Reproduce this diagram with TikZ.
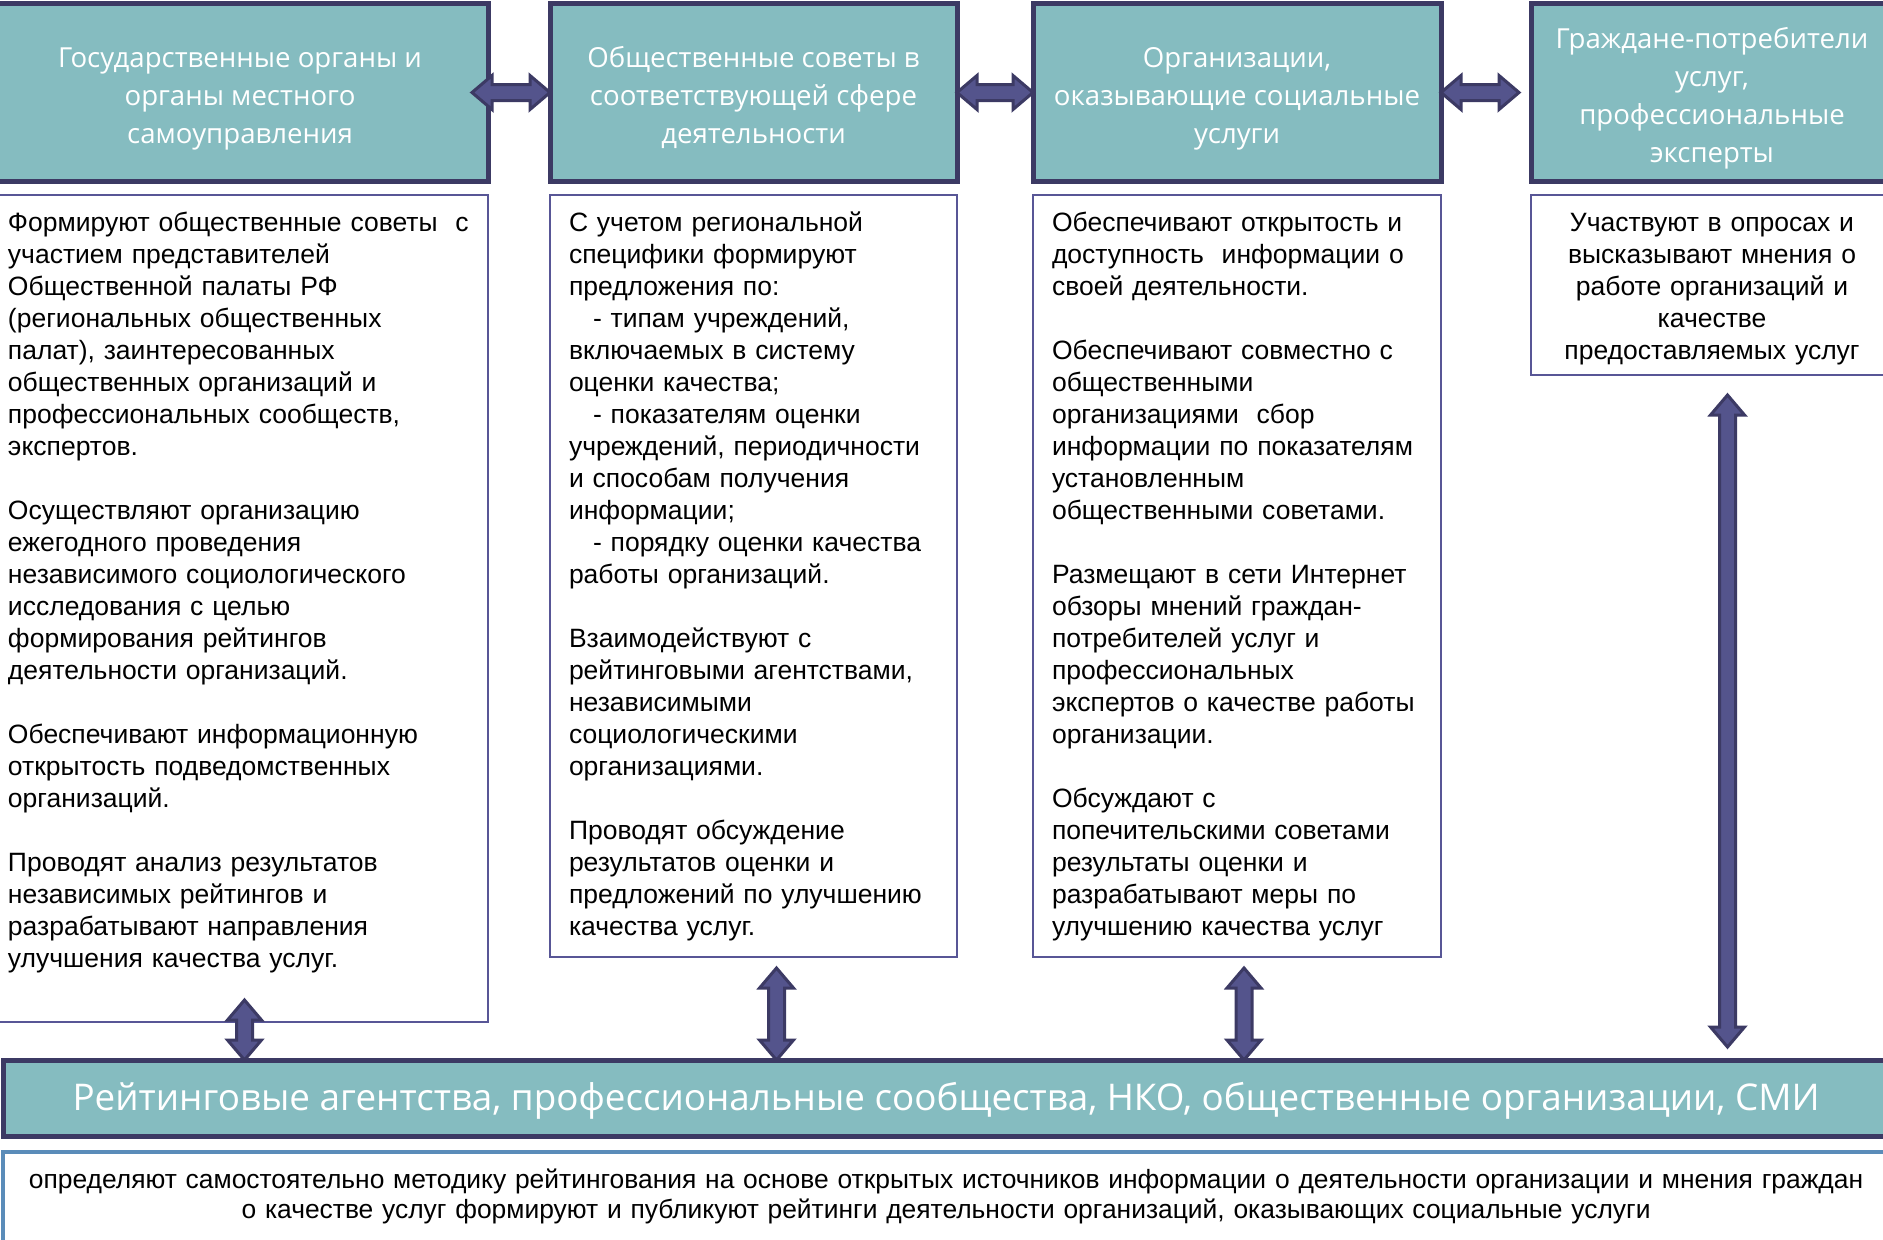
\documentclass[tikz,border=0pt]{standalone}
\usepackage{fontspec}
\setmainfont{Liberation Sans}
\newfontfamily\headfont{Open Sans}
\usetikzlibrary{positioning,calc}

\definecolor{headfill}{RGB}{133,188,192}
\definecolor{frameline}{RGB}{60,58,100}
\definecolor{arrowfill}{RGB}{84,84,140}
\definecolor{bodyline}{RGB}{88,86,150}
\definecolor{infoline}{RGB}{90,140,185}

\begin{document}
\begin{tikzpicture}[
  x=0.5pt, y=-0.5pt,
  every node/.style={outer sep=0pt},
  headBox/.style={draw=frameline, line width=2.5pt, fill=headfill, text=white,
    align=center, inner sep=0pt, minimum height=89pt,
    font=\headfont\fontsize{13.8}{19}\selectfont},
  bodyBox/.style={draw=bodyline, line width=0.75pt, fill=white, align=left,
    inner ysep=0pt, text height=18pt,
    font=\fontsize{13.25}{16}\selectfont},
  bannerBox/.style={draw=frameline, line width=2.5pt, fill=headfill, text=white,
    inner sep=0pt, minimum width=943pt, minimum height=38pt,
    text height=16.5pt, text depth=4.5pt,
    font=\headfont\fontsize{18.4}{22}\selectfont},
  infoBox/.style={draw=infoline, line width=2pt, fill=white, align=center,
    inner xsep=2pt, inner ysep=0pt, text width=939pt, text height=18pt, text depth=50pt,
    font=\fontsize{13.2}{15}\selectfont},
  fatArrow/.style={draw=frameline, fill=arrowfill, line width=1.5pt, line join=miter,
    to path={
      -- ($(\tikztostart)!10pt!(\tikztotarget)!8.5pt!90:(\tikztotarget)$)
      -- ($(\tikztostart)!10pt!(\tikztotarget)!4pt!90:(\tikztotarget)$)
      -- ($(\tikztotarget)!10pt!(\tikztostart)!4pt!-90:(\tikztostart)$)
      -- ($(\tikztotarget)!10pt!(\tikztostart)!8.5pt!-90:(\tikztostart)$)
      -- (\tikztotarget)
      -- ($(\tikztotarget)!10pt!(\tikztostart)!8.5pt!90:(\tikztostart)$)
      -- ($(\tikztotarget)!10pt!(\tikztostart)!4pt!90:(\tikztostart)$)
      -- ($(\tikztostart)!10pt!(\tikztotarget)!4pt!-90:(\tikztotarget)$)
      -- ($(\tikztostart)!10pt!(\tikztotarget)!8.5pt!-90:(\tikztotarget)$)
      -- cycle}}
]
  \useasboundingbox[fill=white] (0,0) rectangle (1883,1239);

  % --- Kopfzeile ---
  \node (h1) [headBox, minimum width=248pt, anchor=north west] at (-8,3.5)
    {\rule{0pt}{16pt}Государственные органы и\\органы местного\\самоуправления};
  \node (h2) [headBox, minimum width=203.5pt, right=31pt of h1]
    {\rule{0pt}{16pt}Общественные советы в\\соответствующей сфере\\деятельности};
  \node (h3) [headBox, minimum width=204pt, right=38pt of h2]
    {\rule{0pt}{16pt}Организации,\\оказывающие социальные\\услуги};
  \node (h4) [headBox, minimum width=181pt, right=45pt of h3]
    {\rule{0pt}{16pt}Граждане-потребители\\услуг,\\профессиональные\\эксперты};

  % --- Aufgaben ---
  \node (b1) [bodyBox, inner xsep=8pt, text width=232pt, text depth=395.5pt, below=6.75pt of h1]
    {Формируют общественные советы\ \ с\\
     участием представителей\\
     Общественной палаты РФ\\
     (региональных общественных\\
     палат), заинтересованных\\
     общественных организаций и\\
     профессиональных сообществ,\\
     экспертов.\\[16pt]
     Осуществляют организацию\\
     ежегодного проведения\\
     независимого социологического\\
     исследования с целью\\
     формирования рейтингов\\
     деятельности организаций.\\[16pt]
     Обеспечивают информационную\\
     открытость подведомственных\\
     организаций.\\[16pt]
     Проводят анализ результатов\\
     независимых рейтингов и\\
     разрабатывают направления\\
     улучшения качества услуг.};
  \node (b2) [bodyBox, inner xsep=9.5pt, text width=184.5pt, text depth=363pt, below=6.75pt of h2]
    {С учетом региональной\\
     специфики формируют\\
     предложения по:\\
     \hspace*{12pt}- типам учреждений,\\
     включаемых в систему\\
     оценки качества;\\
     \hspace*{12pt}- показателям оценки\\
     учреждений, периодичности\\
     и способам получения\\
     информации;\\
     \hspace*{12pt}- порядку оценки качества\\
     работы организаций.\\[16pt]
     Взаимодействуют с\\
     рейтинговыми агентствами,\\
     независимыми\\
     социологическими\\
     организациями.\\[16pt]
     Проводят обсуждение\\
     результатов оценки и\\
     предложений по улучшению\\
     качества услуг.};
  \node (b3) [bodyBox, inner xsep=9.5pt, text width=185pt, text depth=363pt, below=6.75pt of h3]
    {Обеспечивают открытость и\\
     доступность\ \ информации о\\
     своей деятельности.\\[16pt]
     Обеспечивают совместно с\\
     общественными\\
     организациями\ \ сбор\\
     информации по показателям\\
     установленным\\
     общественными советами.\\[16pt]
     Размещают в сети Интернет\\
     обзоры мнений граждан-\\
     потребителей услуг и\\
     профессиональных\\
     экспертов о качестве работы\\
     организации.\\[16pt]
     Обсуждают с\\
     попечительскими советами\\
     результаты оценки и\\
     разрабатывают меры по\\
     улучшению качества услуг};
  \node (b4) [bodyBox, align=center, inner xsep=10pt, text width=161pt, text depth=72pt, below=6.75pt of h4]
    {Участвуют в опросах и\\
     высказывают мнения о\\
     работе организаций и\\
     качестве\\
     предоставляемых услуг};

  % --- Fusszeile ---
  \node (banner) [bannerBox] at (946,1098)
    {Рейтинговые агентства, профессиональные сообщества, НКО, общественные организации, СМИ};
  \node (info) [infoBox, below=8pt of banner]
    {определяют самостоятельно методику рейтингования на основе открытых источников информации о деятельности организации и мнения граждан\\
     о качестве услуг формируют и публикуют рейтинги деятельности организаций, оказывающих социальные услуги};

  % Pfeilenden
  \coordinate (a1) at ([xshift=-8pt]h1.east);
  \coordinate (a2) at (h2.west);
  \coordinate (a3) at (h2.east);
  \coordinate (a4) at (h3.west);
  \coordinate (a5) at (h3.east);
  \coordinate (a6) at ([xshift=-6pt]h4.west);
  \coordinate (v1) at ([xshift=2.25pt, yshift=11pt]b1.south);
  \coordinate (w1) at (v1 |- banner.north);
  \coordinate (v2) at ([xshift=11.5pt, yshift=-5.5pt]b2.south);
  \coordinate (w2) at (v2 |- banner.north);
  \coordinate (v3) at ([xshift=3.5pt, yshift=-5.5pt]b3.south);
  \coordinate (w3) at (v3 |- banner.north);
  \coordinate (v4) at ([xshift=7.75pt, yshift=-10pt]b4.south);
  \coordinate (w4) at ([yshift=6.5pt]v4 |- banner.north);

  % Doppelpfeile
  \draw[fatArrow] (a1) to (a2);
  \draw[fatArrow] (a3) to (a4);
  \draw[fatArrow] (a5) to (a6);
  \draw[fatArrow] (v1) to (w1);
  \draw[fatArrow] (v2) to (w2);
  \draw[fatArrow] (v3) to (w3);
  \draw[fatArrow] (v4) to (w4);
\end{tikzpicture}
\end{document}
